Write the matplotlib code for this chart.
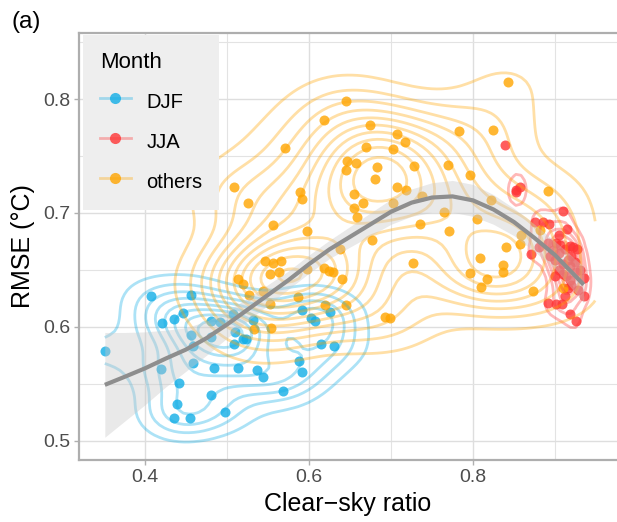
import matplotlib

matplotlib.use("Agg")
import matplotlib.pyplot as plt
import numpy as np
from matplotlib.lines import Line2D
from matplotlib.legend_handler import HandlerTuple
from matplotlib.ticker import MultipleLocator

plt.rcParams["font.family"] = ["Liberation Sans", "DejaVu Sans"]

# clear-sky ratio / RMSE per group
djf_x = [0.351, 0.407, 0.421, 0.435, 0.446, 0.456, 0.456, 0.458, 0.420, 0.442,
         0.439, 0.435, 0.455, 0.458, 0.480, 0.481, 0.484, 0.480, 0.498, 0.492,
         0.507, 0.510, 0.508, 0.519, 0.523, 0.514, 0.536, 0.544, 0.568, 0.532,
         0.588, 0.592, 0.591, 0.603, 0.607, 0.626, 0.615, 0.630]
djf_y = [0.579, 0.627, 0.603, 0.607, 0.612, 0.628, 0.593, 0.583, 0.563, 0.551,
         0.532, 0.520, 0.520, 0.568, 0.605, 0.591, 0.564, 0.540, 0.525, 0.604,
         0.611, 0.595, 0.585, 0.589, 0.589, 0.564, 0.562, 0.556, 0.544, 0.606,
         0.570, 0.560, 0.615, 0.608, 0.605, 0.613, 0.585, 0.583]

# the JJA core is a pile of overlapping points, several of them hidden
jja_x = [0.839, 0.857, 0.853, 0.852, 0.910, 0.876, 0.885, 0.893, 0.915, 0.871,
         0.892, 0.901, 0.906, 0.918, 0.880, 0.894, 0.900, 0.916, 0.924, 0.918,
         0.930, 0.935, 0.910, 0.918, 0.916, 0.912, 0.935, 0.891, 0.901, 0.909,
         0.918, 0.926, 0.927, 0.905, 0.905, 0.912, 0.920, 0.897, 0.910, 0.925,
         0.913, 0.905, 0.920, 0.928, 0.900, 0.922]
jja_y = [0.760, 0.723, 0.720, 0.718, 0.702, 0.692, 0.692, 0.690, 0.686, 0.664,
         0.674, 0.674, 0.672, 0.671, 0.670, 0.662, 0.659, 0.659, 0.657, 0.653,
         0.650, 0.643, 0.646, 0.641, 0.634, 0.627, 0.627, 0.621, 0.620, 0.620,
         0.611, 0.605, 0.668, 0.681, 0.665, 0.668, 0.662, 0.667, 0.655, 0.648,
         0.645, 0.650, 0.637, 0.632, 0.645, 0.670]

others_x = [0.618, 0.571, 0.508, 0.525, 0.589, 0.591, 0.556, 0.598, 0.645, 0.674,
            0.707, 0.717, 0.703, 0.670, 0.783, 0.646, 0.657, 0.645, 0.683, 0.680,
            0.728, 0.769, 0.796, 0.655, 0.666, 0.655, 0.659, 0.707, 0.718, 0.702,
            0.738, 0.765, 0.735, 0.771, 0.677, 0.843, 0.824, 0.892, 0.822, 0.805,
            0.840, 0.857, 0.859, 0.882, 0.809, 0.638, 0.836, 0.837, 0.817, 0.810,
            0.873, 0.910, 0.727, 0.693, 0.699, 0.796, 0.618, 0.624, 0.640, 0.620,
            0.645, 0.597, 0.546, 0.556, 0.566, 0.552, 0.563, 0.513, 0.519, 0.527,
            0.544, 0.552, 0.533, 0.554, 0.586, 0.629]
others_y = [0.782, 0.757, 0.723, 0.709, 0.718, 0.712, 0.689, 0.684, 0.798, 0.777,
            0.769, 0.762, 0.756, 0.758, 0.772, 0.746, 0.744, 0.738, 0.740, 0.730,
            0.741, 0.742, 0.733, 0.717, 0.709, 0.704, 0.696, 0.723, 0.720, 0.709,
            0.715, 0.701, 0.690, 0.684, 0.676, 0.815, 0.773, 0.719, 0.711, 0.695,
            0.670, 0.673, 0.681, 0.685, 0.660, 0.668, 0.654, 0.648, 0.642, 0.635,
            0.631, 0.634, 0.656, 0.609, 0.608, 0.647, 0.652, 0.649, 0.642, 0.619,
            0.619, 0.651, 0.658, 0.656, 0.658, 0.646, 0.648, 0.642, 0.638, 0.628,
            0.631, 0.620, 0.598, 0.599, 0.626, 0.648]

# loess fit and its standard-error half width
smooth_x = [0.351, 0.375, 0.400, 0.425, 0.450, 0.475, 0.500, 0.525, 0.550, 0.575,
            0.600, 0.625, 0.650, 0.675, 0.700, 0.725, 0.750, 0.775, 0.800, 0.825,
            0.850, 0.875, 0.900, 0.935]
smooth_y = [0.549, 0.556, 0.5635, 0.572, 0.580, 0.590, 0.602, 0.615, 0.628, 0.641,
            0.655, 0.668, 0.679, 0.690, 0.701, 0.709, 0.7135, 0.7145, 0.711, 0.703,
            0.692, 0.678, 0.663, 0.637]
smooth_se = [0.046, 0.039, 0.032, 0.025, 0.019, 0.015, 0.012, 0.010, 0.009, 0.008,
             0.008, 0.008, 0.009, 0.010, 0.011, 0.012, 0.013, 0.014, 0.014, 0.013,
             0.012, 0.012, 0.012, 0.016]

groups = ["DJF", "JJA", "others"]
colors = {"DJF": "#12AEE6", "JJA": "#FF3535", "others": "#FFA500"}
data = {
    "DJF": (djf_x, djf_y),
    "JJA": (jja_x, jja_y),
    "others": (others_x, others_y),
}
# number of equal density steps per group (None: R-style pretty breaks)
n_steps = {"DJF": 9, "JJA": None, "others": None}


def bandwidth_nrd(v):
    v = np.asarray(v)
    q1, q3 = np.quantile(v, [0.25, 0.75])
    return 4 * 1.06 * min(np.std(v, ddof=1), (q3 - q1) / 1.34) * len(v) ** (-0.2)


def kde2d(x, y, gx, gy):
    x = np.asarray(x)
    y = np.asarray(y)
    hx = bandwidth_nrd(x) / 4
    hy = bandwidth_nrd(y) / 4
    kx = np.exp(-0.5 * ((gx[:, None] - x[None, :]) / hx) ** 2) / np.sqrt(2 * np.pi)
    ky = np.exp(-0.5 * ((gy[:, None] - y[None, :]) / hy) ** 2) / np.sqrt(2 * np.pi)
    return (kx @ ky.T) / (len(x) * hx * hy)


def pretty(lo, hi, n=10):
    # same step rule as R's pretty()
    h, h5 = 1.5, 0.5 + 1.5 * 1.5
    cell = (hi - lo) / n
    base = 10 ** np.floor(np.log10(cell))
    unit = base
    if 2 * base - cell < h * (cell - unit):
        unit = 2 * base
        if 5 * base - cell < h5 * (cell - unit):
            unit = 5 * base
            if 10 * base - cell < h * (cell - unit):
                unit = 10 * base
    ns = np.floor(lo / unit + 1e-7)
    nu = np.ceil(hi / unit - 1e-7)
    return np.arange(ns, nu + 1) * unit


fig = plt.figure(figsize=(6.17, 5.22), dpi=100)
ax = fig.add_axes([79 / 617, 62 / 522, 538 / 617, 427 / 522])
ax.set_xlim(0.3195, 0.9756)
ax.set_ylim(0.483, 0.858)

ax.xaxis.set_major_locator(MultipleLocator(0.2))
ax.xaxis.set_minor_locator(MultipleLocator(0.1))
ax.yaxis.set_major_locator(MultipleLocator(0.1))
ax.yaxis.set_minor_locator(MultipleLocator(0.05))
ax.grid(which="major", color="#DEDEDE", linewidth=1.0)
ax.grid(which="minor", color="#E3E3E3", linewidth=0.8)
ax.set_axisbelow(True)
ax.tick_params(which="major", length=3.5, width=1.0, color="#B0B0B0",
               labelsize=14, labelcolor="#4D4D4D", pad=3)
ax.tick_params(which="minor", length=0)
for side in ["left", "bottom", "top"]:
    ax.spines[side].set_color("#AEAEAE")
    ax.spines[side].set_linewidth(1.6)
ax.spines["right"].set_visible(False)

gx = np.linspace(0.351, 0.949, 100)
gy = np.linspace(0.485, 0.840, 100)

for g in groups:
    gxs, gys = data[g]
    ax.scatter(gxs, gys, s=52, color=colors[g], alpha=0.8, linewidths=0, zorder=2)

for g in groups:
    gxs, gys = data[g]
    z = kde2d(gxs, gys, gx, gy)
    if n_steps[g]:
        levels = np.arange(1, n_steps[g]) * z.max() / n_steps[g]
    else:
        levels = [lv for lv in pretty(z.min(), z.max()) if z.min() < lv < z.max()]
    ax.contour(gx, gy, z.T, levels=levels, colors=colors[g], alpha=0.35,
               linewidths=2.0, zorder=3)

sx = np.asarray(smooth_x)
sy = np.asarray(smooth_y)
se = np.asarray(smooth_se)
ax.fill_between(sx, sy - se, sy + se, color="#C8C8C8", alpha=0.4, linewidth=0, zorder=4)
ax.plot(sx, sy, color="#8E8E8E", linewidth=3.0, solid_capstyle="butt", zorder=5)

ax.set_xlabel("Clear\u2212sky ratio", fontsize=18, labelpad=4)
ax.set_ylabel("RMSE (\u00b0C)", fontsize=18, labelpad=6)

handles = [
    (Line2D([], [], color=colors[g], alpha=0.35, linewidth=2.0),
     Line2D([], [], color=colors[g], alpha=0.8, marker="o", markersize=8,
            markeredgewidth=0, linestyle=""))
    for g in groups
]
leg = ax.legend(handles, groups, title="Month", loc="upper left",
                bbox_to_anchor=(0.007, 0.996), handler_map={tuple: HandlerTuple(ndivide=1)},
                fontsize=14.5, title_fontsize=16, frameon=True, fancybox=False,
                facecolor="#EEEEEE", edgecolor="none", framealpha=1,
                borderpad=0.85, labelspacing=0.8, handleheight=1.45,
                handlelength=1.55, handletextpad=0.75, borderaxespad=0,
                alignment="left")
leg.set_zorder(6)

fig.text(0.018, 0.958, "(a)", fontsize=17.5, ha="left", va="center")

fig.savefig("out.png", dpi=100)
plt.close(fig)
